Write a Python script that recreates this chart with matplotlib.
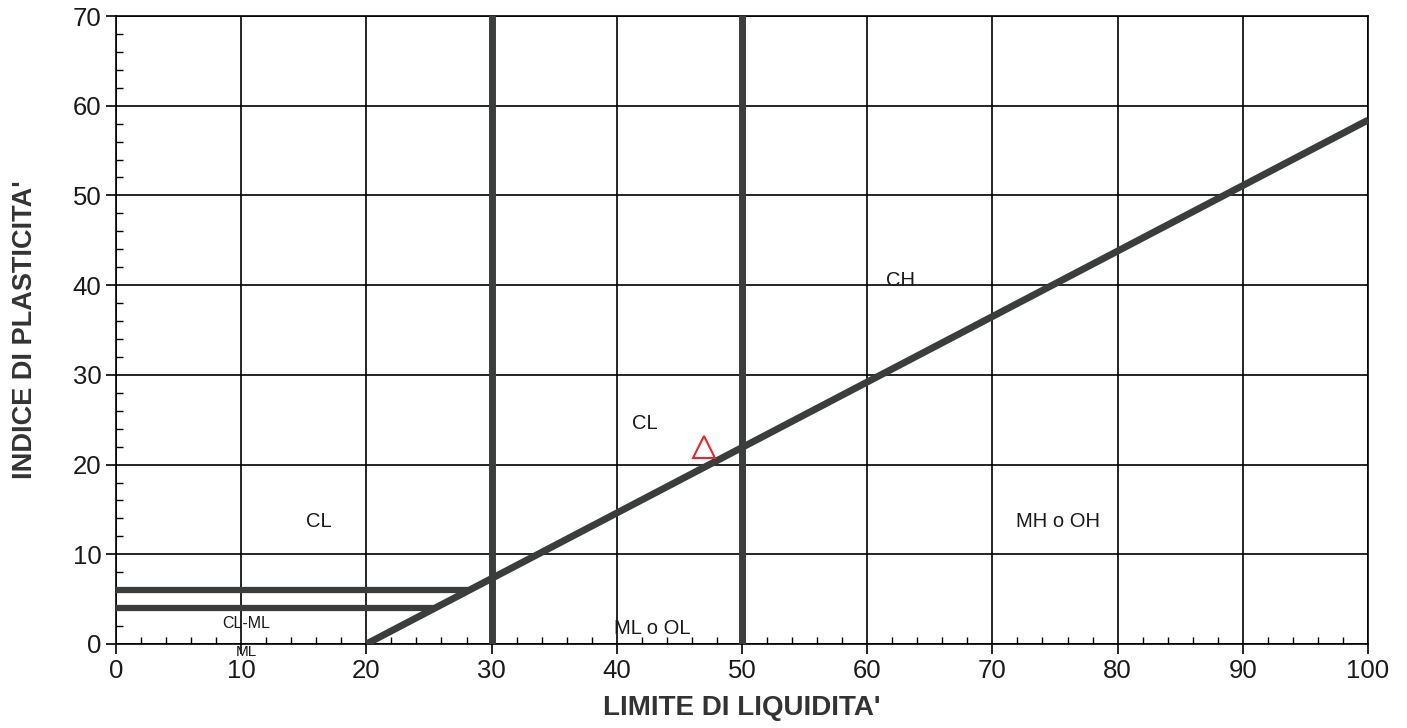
import matplotlib
matplotlib.use("Agg")
import matplotlib.pyplot as plt
import numpy as np

plt.rcParams['font.family'] = ['Liberation Sans', 'DejaVu Sans']

# Data
a_line_ll = [20, 100]          # LL range of A-line
a_slope = 0.73                 # PI = 0.73 (LL - 20)
vertical_ll = [30, 50]         # thick vertical boundaries
band_pi = [6, 4]               # CL-ML band horizontal lines
sample_ll = [47]
sample_pi = [22]
zone_labels = ["CL", "CL", "CH", "MH o OH", "ML o OL", "CL-ML", "ML"]
zone_x = [16.2, 42.2, 62.7, 75.2, 42.8, 10.4, 10.4]
zone_y = [13.6, 24.6, 40.5, 13.6, 1.7, 2.3, -0.9]
zone_size = [14.5, 14.5, 14.5, 14.5, 14.5, 11.5, 11]
x_ticks = list(range(0, 101, 10))
y_ticks = list(range(0, 71, 10))

fig = plt.figure(figsize=(14.07, 7.28), dpi=100)
ax = fig.add_axes([0.0824, 0.1154, 0.8899, 0.8626])
ax.set_xlim(0, 100)
ax.set_ylim(0, 70)

ax.set_xticks(x_ticks)
ax.set_yticks(y_ticks)
ax.set_xticks(np.arange(0, 101, 2), minor=True)
ax.set_yticks(np.arange(0, 71, 2), minor=True)
ax.tick_params(axis='both', which='major', direction='out', length=7, width=1.2,
               labelsize=18.5, color='black', labelcolor='#1a1a1a')
ax.tick_params(axis='both', which='minor', direction='in', length=5, width=1.0)
ax.grid(True, which='major', color='black', linewidth=1.2)
for s in ax.spines.values():
    s.set_linewidth(1.2)
    s.set_color('black')

dark = '#3a3d3c'
# A-line
lx = np.array(a_line_ll, dtype=float)
ax.plot(lx, a_slope * (lx - 20), color=dark, linewidth=5, solid_capstyle='butt', zorder=3)
# vertical thick lines
for v in vertical_ll:
    ax.axvline(v, color=dark, linewidth=5, zorder=3)
# band lines
for p in band_pi:
    ax.plot([0, 20 + p / a_slope], [p, p], color=dark, linewidth=4.5, zorder=3,
            solid_capstyle='butt')

# sample
ax.plot(sample_ll, sample_pi, marker='^', markersize=16, markerfacecolor='none',
        markeredgecolor='#e8262a', markeredgewidth=1.5, linestyle='none', zorder=5,
        clip_on=False)

for t, x, y, s in zip(zone_labels, zone_x, zone_y, zone_size):
    ax.text(x, y, t, ha='center', va='center', fontsize=s, zorder=6, clip_on=False,
            color='#1a1a1a')

ax.set_xlabel("LIMITE DI LIQUIDITA'", fontsize=20, fontweight='bold', labelpad=9,
              color='#333333')
ax.set_ylabel("INDICE DI PLASTICITA'", fontsize=19.5, fontweight='bold', labelpad=25,
              color='#333333')

fig.savefig("out.png", dpi=100)
